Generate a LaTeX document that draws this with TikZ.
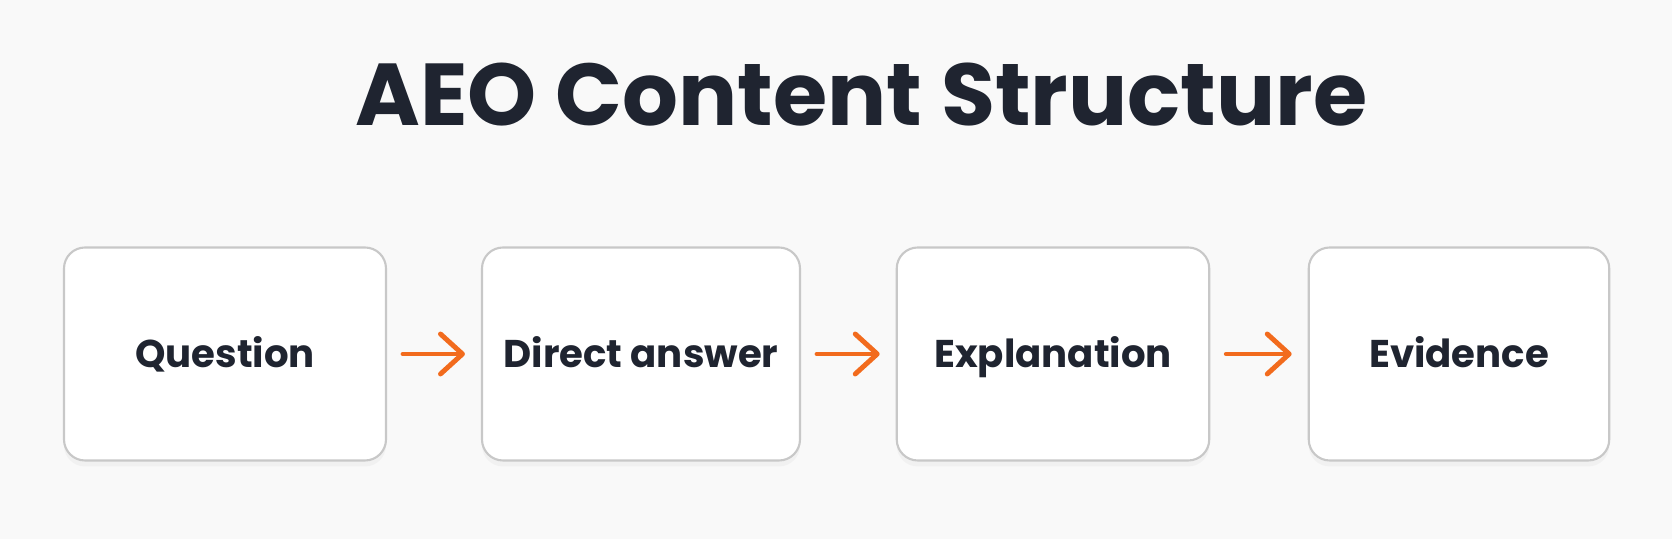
\documentclass[tikz,border=0pt]{standalone}
\usepackage{fontspec}
\setmainfont{Poppins}
\usepackage{tikz}
\usepackage{xcolor}
\usetikzlibrary{arrows.meta, positioning, shadows}
\definecolor{bgcolor}{RGB}{249,249,249}
\definecolor{textcolor}{RGB}{31,36,48}
\definecolor{bordercolor}{RGB}{200,200,200}
\definecolor{arrowcolor}{RGB}{242,107,29}
\tikzstyle{stepbox} = [rectangle, draw=bordercolor, line width=1.2pt, fill=white, minimum height=4.26cm, rounded corners=0.42cm, font=\fontsize{22}{26}\selectfont\bfseries, text=textcolor, text height=15.5pt, text depth=0pt, drop shadow={opacity=0.06, shadow xshift=0pt, shadow yshift=-0.12cm}]
\tikzstyle{arrow} = [-{Straight Barb[length=0.44cm, width=0.8cm, round]}, line width=2.8pt, line cap=round, arrowcolor, shorten <=0.32cm, shorten >=0.32cm]

\begin{document}
\begin{tikzpicture}
    % background
    \fill[bgcolor] (0, 0) rectangle (33.44, 10.78);
    \useasboundingbox (0, 0) rectangle (33.44, 10.78);

    % Title
    \node[font=\fontsize{50}{58}\selectfont\bfseries, text=textcolor] (title) at (17.23, 8.88) {AEO Content Structure};

    % Steps
    \node[stepbox, minimum width=6.44cm] (question) at (4.50, 3.70) {Question};
    \node[stepbox, minimum width=6.36cm] (answer) at (12.82, 3.70) {Direct answer};
    \node[stepbox, minimum width=6.25cm] (explanation) at (21.06, 3.70) {Explanation};
    \node[stepbox, minimum width=6.01cm] (evidence) at (29.18, 3.70) {Evidence};

    \draw[arrow] (question) -- (answer);
    \draw[arrow] (answer) -- (explanation);
    \draw[arrow] (explanation) -- (evidence);

\end{tikzpicture}
\end{document}
